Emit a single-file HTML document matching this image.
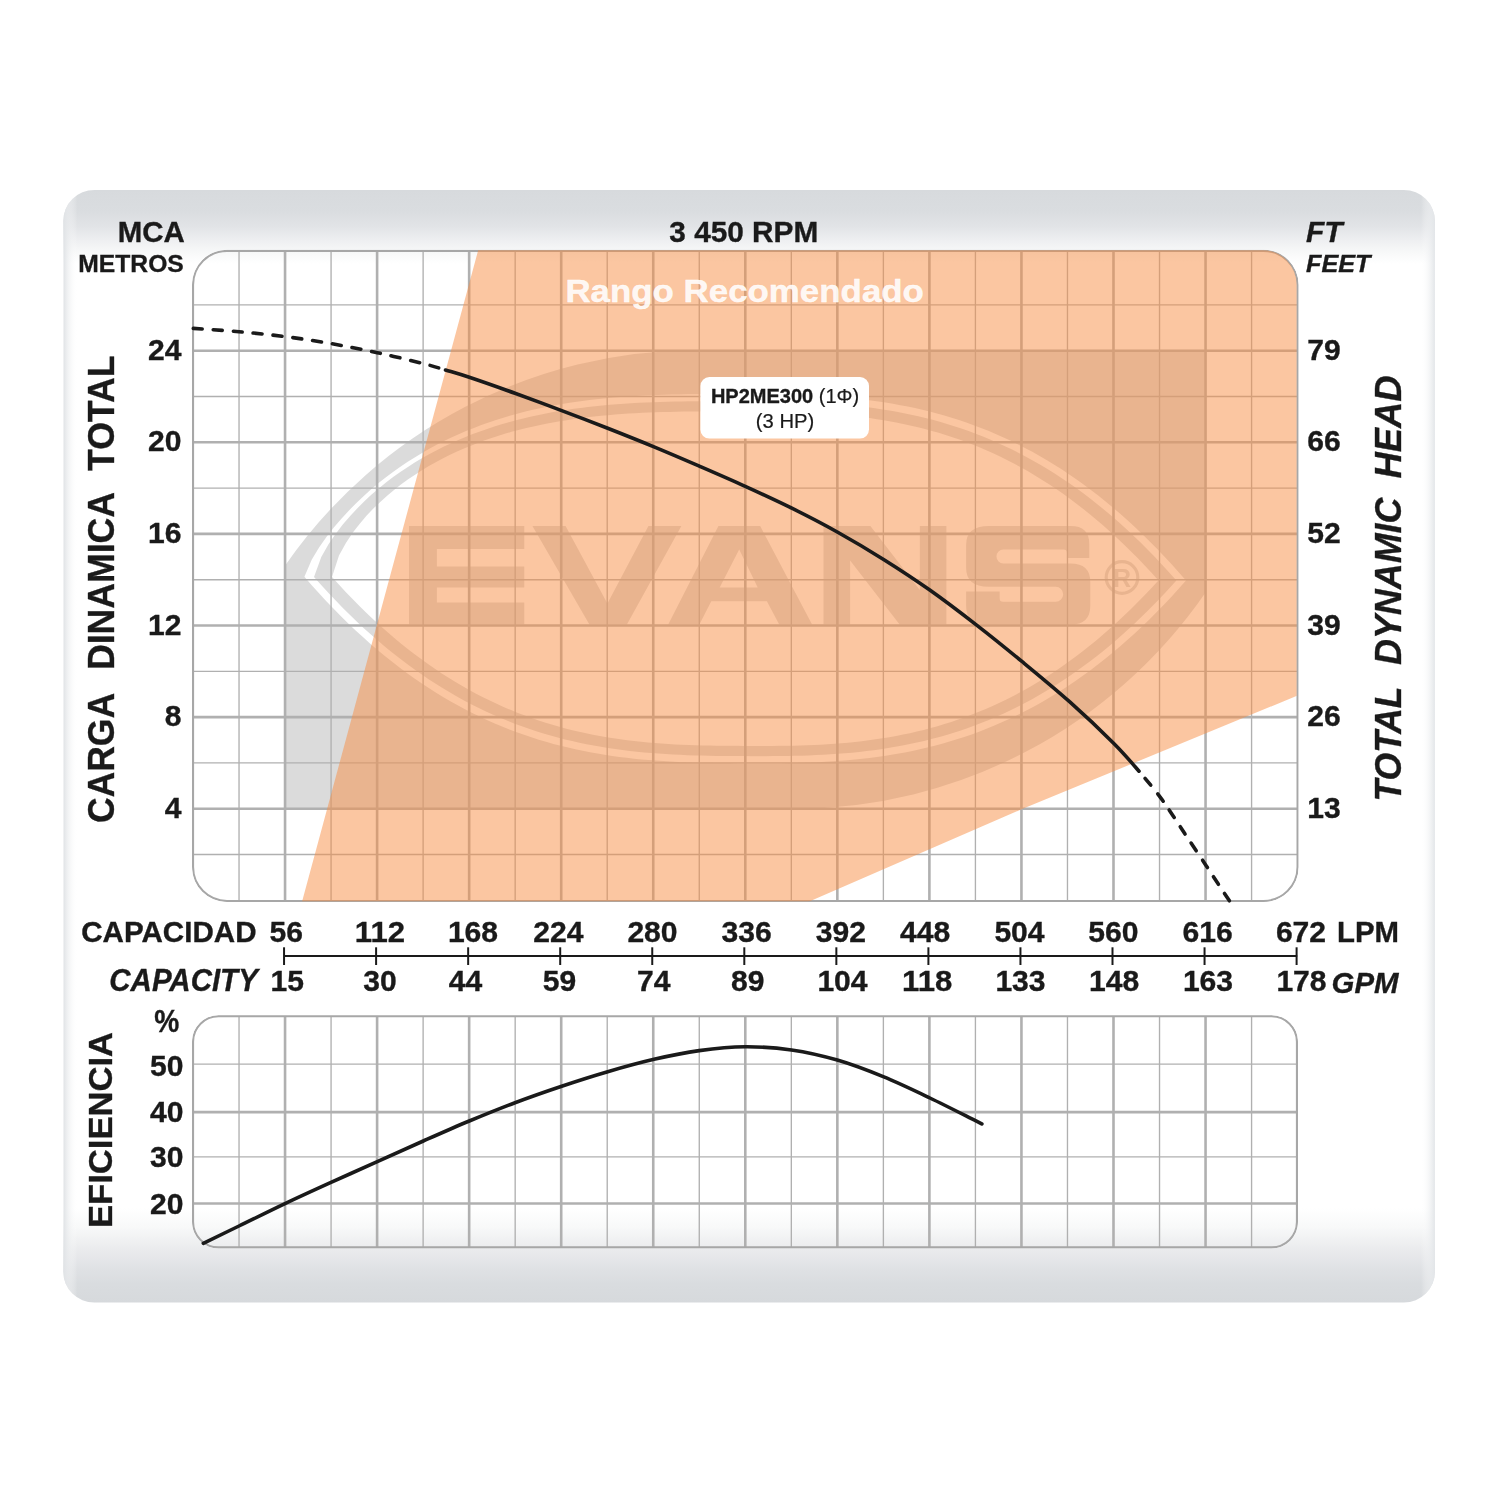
<!DOCTYPE html>
<html lang="es"><head><meta charset="utf-8"><title>Curva HP2ME300</title>
<style>html,body{margin:0;padding:0;background:#fff}svg{display:block}text{font-family:"Liberation Sans", sans-serif;fill:#1a1a1a}.b{font-weight:bold}.bi{font-weight:bold;font-style:italic}.b,.bi{stroke:#1a1a1a;stroke-width:.35px}</style>
</head><body>
<svg width="1500" height="1500" viewBox="0 0 1500 1500">
<defs>
<linearGradient id="gt" x1="0" y1="0" x2="0" y2="1"><stop offset="0" stop-color="#d7dadd"/><stop offset="0.3" stop-color="#dadde0"/><stop offset="0.5" stop-color="#e2e4e7"/><stop offset="0.68" stop-color="#eeeff1"/><stop offset="0.85" stop-color="#f8f9f9"/><stop offset="1" stop-color="#fff"/></linearGradient>
<linearGradient id="gb" x1="0" y1="0" x2="0" y2="1"><stop offset="0" stop-color="#fff"/><stop offset="0.2" stop-color="#f8f9f9"/><stop offset="0.42" stop-color="#ebecee"/><stop offset="0.65" stop-color="#dfe1e4"/><stop offset="0.8" stop-color="#d9dcdf"/><stop offset="1" stop-color="#d6d9dc"/></linearGradient>
<linearGradient id="gl" x1="0" y1="0" x2="1" y2="0"><stop offset="0" stop-color="#dfe2e5"/><stop offset="1" stop-color="#fff" stop-opacity="0"/></linearGradient>
<linearGradient id="gr" x1="0" y1="0" x2="1" y2="0"><stop offset="0" stop-color="#fff" stop-opacity="0"/><stop offset="1" stop-color="#e2e5e8"/></linearGradient>
<clipPath id="cpanel"><rect x="63.3" y="190" width="1371.6" height="1112.6" rx="31" ry="31"/></clipPath>
<clipPath id="cmain"><rect x="192" y="249.8" width="1106.6" height="652.2" rx="35" ry="35"/></clipPath>
<clipPath id="cpoly"><rect x="192.7" y="250.2" width="1103.9" height="651.1" rx="34" ry="34"/></clipPath>
<clipPath id="ceff"><rect x="192" y="1015.2" width="1106" height="233.2" rx="26.5" ry="26.5"/></clipPath>
<clipPath id="clogo"><rect x="285.5" y="350.3" width="920.1" height="458.6"/></clipPath>
<mask id="mlogo" maskUnits="userSpaceOnUse" x="0" y="0" width="1500" height="1500">
<rect x="0" y="0" width="1500" height="1500" fill="#000"/>
<g clip-path="url(#clogo)">
<path d="M285.5 565 A500 500 0 0 1 697 350.3 L1205.6 350.3 L1205.6 592.4 A500 500 0 0 1 793.4 808.9 L285.5 808.9 Z" fill="#fff"/>
<g transform="rotate(0.24 745.2 578.7)">
<path d="M304.4 578.7 L311.75 561.24 L319.09 549.05 L326.44 538.51 L333.79 529.03 L341.13 520.34 L348.48 512.29 L355.83 504.78 L363.17 497.74 L370.52 491.13 L377.87 484.9 L385.21 479.02 L392.56 473.47 L399.91 468.21 L407.25 463.24 L414.6 458.54 L421.95 454.09 L429.29 449.88 L436.64 445.89 L443.99 442.12 L451.33 438.56 L458.68 435.19 L466.03 432.02 L473.37 429.02 L480.72 426.19 L488.07 423.54 L495.41 421.04 L502.76 418.69 L510.11 416.49 L517.45 414.43 L524.8 412.51 L532.15 410.71 L539.49 409.04 L546.84 407.49 L554.19 406.06 L561.53 404.73 L568.88 403.51 L576.23 402.38 L583.57 401.36 L590.92 400.42 L598.27 399.57 L605.61 398.8 L612.96 398.11 L620.31 397.49 L627.65 396.94 L635 396.46 L642.35 396.04 L649.69 395.67 L657.04 395.36 L664.39 395.09 L671.73 394.87 L679.08 394.69 L686.43 394.54 L693.77 394.43 L701.12 394.34 L708.47 394.28 L715.81 394.24 L723.16 394.22 L730.51 394.21 L737.85 394.2 L745.2 394.2 L752.55 394.2 L759.89 394.22 L767.24 394.25 L774.59 394.31 L781.93 394.4 L789.28 394.53 L796.63 394.7 L803.97 394.92 L811.32 395.2 L818.67 395.54 L826.01 395.94 L833.36 396.41 L840.71 396.95 L848.05 397.57 L855.4 398.28 L862.75 399.07 L870.09 399.95 L877.44 400.93 L884.79 402.01 L892.13 403.19 L899.48 404.48 L906.83 405.89 L914.17 407.41 L921.52 409.05 L928.87 410.81 L936.21 412.7 L943.56 414.73 L950.91 416.89 L958.25 419.18 L965.6 421.63 L972.95 424.21 L980.29 426.95 L987.64 429.84 L994.99 432.89 L1002.33 436.11 L1009.68 439.48 L1017.03 443.02 L1024.37 446.74 L1031.72 450.63 L1039.07 454.7 L1046.41 458.95 L1053.76 463.39 L1061.11 468.01 L1068.45 472.83 L1075.8 477.84 L1083.15 483.05 L1090.49 488.46 L1097.84 494.08 L1105.19 499.91 L1112.53 505.95 L1119.88 512.2 L1127.23 518.68 L1134.57 525.37 L1141.92 532.29 L1149.27 539.44 L1156.61 546.82 L1163.96 554.43 L1171.31 562.28 L1178.65 570.37 L1186 578.7 L1178.65 587.03 L1171.31 595.12 L1163.96 602.97 L1156.61 610.58 L1149.27 617.96 L1141.92 625.11 L1134.57 632.03 L1127.23 638.72 L1119.88 645.2 L1112.53 651.45 L1105.19 657.49 L1097.84 663.32 L1090.49 668.94 L1083.15 674.35 L1075.8 679.56 L1068.45 684.57 L1061.11 689.39 L1053.76 694.01 L1046.41 698.45 L1039.07 702.7 L1031.72 706.77 L1024.37 710.66 L1017.03 714.38 L1009.68 717.92 L1002.33 721.29 L994.99 724.51 L987.64 727.56 L980.29 730.45 L972.95 733.19 L965.6 735.77 L958.25 738.22 L950.91 740.51 L943.56 742.67 L936.21 744.7 L928.87 746.59 L921.52 748.35 L914.17 749.99 L906.83 751.51 L899.48 752.92 L892.13 754.21 L884.79 755.39 L877.44 756.47 L870.09 757.45 L862.75 758.33 L855.4 759.12 L848.05 759.83 L840.71 760.45 L833.36 760.99 L826.01 761.46 L818.67 761.86 L811.32 762.2 L803.97 762.48 L796.63 762.7 L789.28 762.87 L781.93 763 L774.59 763.09 L767.24 763.15 L759.89 763.18 L752.55 763.2 L745.2 763.2 L737.85 763.2 L730.51 763.18 L723.16 763.15 L715.81 763.09 L708.47 763 L701.12 762.87 L693.77 762.7 L686.43 762.48 L679.08 762.2 L671.73 761.86 L664.39 761.46 L657.04 760.99 L649.69 760.45 L642.35 759.83 L635 759.12 L627.65 758.33 L620.31 757.45 L612.96 756.47 L605.61 755.39 L598.27 754.21 L590.92 752.92 L583.57 751.51 L576.23 749.99 L568.88 748.35 L561.53 746.59 L554.19 744.7 L546.84 742.67 L539.49 740.51 L532.15 738.22 L524.8 735.77 L517.45 733.19 L510.11 730.45 L502.76 727.56 L495.41 724.51 L488.07 721.29 L480.72 717.92 L473.37 714.38 L466.03 710.66 L458.68 706.77 L451.33 702.7 L443.99 698.45 L436.64 694.01 L429.29 689.39 L421.95 684.57 L414.6 679.56 L407.25 674.35 L399.91 668.94 L392.56 663.32 L385.21 657.49 L377.87 651.45 L370.52 645.2 L363.17 638.72 L355.83 632.03 L348.48 625.11 L341.13 617.96 L333.79 610.58 L326.44 602.97 L319.09 595.12 L311.75 587.03 Z" fill="#000"/>
<path d="M314 578.7 L321.19 558.67 L328.37 546.01 L335.56 535.39 L342.75 526.01 L349.93 517.54 L357.12 509.77 L364.31 502.59 L371.49 495.91 L378.68 489.67 L385.87 483.82 L393.05 478.34 L400.24 473.17 L407.43 468.31 L414.61 463.72 L421.8 459.4 L428.99 455.31 L436.17 451.46 L443.36 447.82 L450.55 444.39 L457.73 441.15 L464.92 438.09 L472.11 435.22 L479.29 432.51 L486.48 429.96 L493.67 427.56 L500.85 425.31 L508.04 423.2 L515.23 421.22 L522.41 419.37 L529.6 417.65 L536.79 416.04 L543.97 414.54 L551.16 413.16 L558.35 411.87 L565.53 410.69 L572.72 409.59 L579.91 408.59 L587.09 407.68 L594.28 406.84 L601.47 406.08 L608.65 405.4 L615.84 404.78 L623.03 404.23 L630.21 403.74 L637.4 403.31 L644.59 402.93 L651.77 402.61 L658.96 402.33 L666.15 402.09 L673.33 401.89 L680.52 401.73 L687.71 401.6 L694.89 401.5 L702.08 401.43 L709.27 401.37 L716.45 401.34 L723.64 401.32 L730.83 401.3 L738.01 401.3 L745.2 401.3 L752.39 401.3 L759.57 401.32 L766.76 401.35 L773.95 401.4 L781.13 401.49 L788.32 401.62 L795.51 401.78 L802.69 402 L809.88 402.26 L817.07 402.59 L824.25 402.97 L831.44 403.42 L838.63 403.94 L845.81 404.54 L853 405.22 L860.19 405.98 L867.37 406.83 L874.56 407.77 L881.75 408.81 L888.93 409.95 L896.12 411.19 L903.31 412.54 L910.49 414 L917.68 415.58 L924.87 417.27 L932.05 419.09 L939.24 421.04 L946.43 423.11 L953.61 425.32 L960.8 427.67 L967.99 430.16 L975.17 432.79 L982.36 435.57 L989.55 438.51 L996.73 441.59 L1003.92 444.84 L1011.11 448.25 L1018.29 451.82 L1025.48 455.56 L1032.67 459.47 L1039.85 463.56 L1047.04 467.82 L1054.23 472.27 L1061.41 476.9 L1068.6 481.72 L1075.79 486.73 L1082.97 491.94 L1090.16 497.34 L1097.35 502.94 L1104.53 508.75 L1111.72 514.76 L1118.91 520.99 L1126.09 527.42 L1133.28 534.08 L1140.47 540.95 L1147.65 548.04 L1154.84 555.36 L1162.03 562.91 L1169.21 570.69 L1176.4 578.7 L1169.21 586.71 L1162.03 594.49 L1154.84 602.04 L1147.65 609.36 L1140.47 616.45 L1133.28 623.32 L1126.09 629.98 L1118.91 636.41 L1111.72 642.64 L1104.53 648.65 L1097.35 654.46 L1090.16 660.06 L1082.97 665.46 L1075.79 670.67 L1068.6 675.68 L1061.41 680.5 L1054.23 685.13 L1047.04 689.58 L1039.85 693.84 L1032.67 697.93 L1025.48 701.84 L1018.29 705.58 L1011.11 709.15 L1003.92 712.56 L996.73 715.81 L989.55 718.89 L982.36 721.83 L975.17 724.61 L967.99 727.24 L960.8 729.73 L953.61 732.08 L946.43 734.29 L939.24 736.36 L932.05 738.31 L924.87 740.13 L917.68 741.82 L910.49 743.4 L903.31 744.86 L896.12 746.21 L888.93 747.45 L881.75 748.59 L874.56 749.63 L867.37 750.57 L860.19 751.42 L853 752.18 L845.81 752.86 L838.63 753.46 L831.44 753.98 L824.25 754.43 L817.07 754.81 L809.88 755.14 L802.69 755.4 L795.51 755.62 L788.32 755.78 L781.13 755.91 L773.95 756 L766.76 756.05 L759.57 756.08 L752.39 756.1 L745.2 756.1 L738.01 756.1 L730.83 756.08 L723.64 756.05 L716.45 756 L709.27 755.91 L702.08 755.78 L694.89 755.62 L687.71 755.4 L680.52 755.14 L673.33 754.81 L666.15 754.43 L658.96 753.98 L651.77 753.46 L644.59 752.86 L637.4 752.18 L630.21 751.42 L623.03 750.57 L615.84 749.63 L608.65 748.59 L601.47 747.45 L594.28 746.21 L587.09 744.86 L579.91 743.4 L572.72 741.82 L565.53 740.13 L558.35 738.31 L551.16 736.36 L543.97 734.29 L536.79 732.08 L529.6 729.73 L522.41 727.24 L515.23 724.61 L508.04 721.83 L500.85 718.89 L493.67 715.81 L486.48 712.56 L479.29 709.15 L472.11 705.58 L464.92 701.84 L457.73 697.93 L450.55 693.84 L443.36 689.58 L436.17 685.13 L428.99 680.5 L421.8 675.68 L414.61 670.67 L407.43 665.46 L400.24 660.06 L393.05 654.46 L385.87 648.65 L378.68 642.64 L371.49 636.41 L364.31 629.98 L357.12 623.32 L349.93 616.45 L342.75 609.36 L335.56 602.04 L328.37 594.49 L321.19 586.71 Z" fill="#fff"/>
<path d="M332 578.7 L338.89 557.14 L345.77 544.55 L352.66 534.23 L359.55 525.24 L366.43 517.2 L373.32 509.89 L380.21 503.18 L387.09 496.97 L393.98 491.2 L400.87 485.81 L407.75 480.77 L414.64 476.05 L421.53 471.61 L428.41 467.44 L435.3 463.51 L442.19 459.81 L449.07 456.33 L455.96 453.04 L462.85 449.95 L469.73 447.04 L476.62 444.29 L483.51 441.71 L490.39 439.28 L497.28 437 L504.17 434.86 L511.05 432.84 L517.94 430.96 L524.83 429.2 L531.71 427.55 L538.6 426.01 L545.49 424.58 L552.37 423.25 L559.26 422.02 L566.15 420.88 L573.03 419.82 L579.92 418.85 L586.81 417.96 L593.69 417.15 L600.58 416.41 L607.47 415.74 L614.35 415.13 L621.24 414.58 L628.13 414.1 L635.01 413.66 L641.9 413.28 L648.79 412.95 L655.67 412.66 L662.56 412.41 L669.45 412.2 L676.33 412.03 L683.22 411.88 L690.11 411.77 L696.99 411.68 L703.88 411.61 L710.77 411.57 L717.65 411.53 L724.54 411.51 L731.43 411.5 L738.31 411.5 L745.2 411.5 L752.09 411.5 L758.97 411.51 L765.86 411.54 L772.75 411.6 L779.63 411.68 L786.52 411.8 L793.41 411.95 L800.29 412.16 L807.18 412.41 L814.07 412.71 L820.95 413.07 L827.84 413.5 L834.73 413.99 L841.61 414.56 L848.5 415.19 L855.39 415.91 L862.27 416.71 L869.16 417.6 L876.05 418.58 L882.93 419.65 L889.82 420.82 L896.71 422.09 L903.59 423.47 L910.48 424.96 L917.37 426.55 L924.25 428.27 L931.14 430.1 L938.03 432.06 L944.91 434.14 L951.8 436.35 L958.69 438.7 L965.57 441.18 L972.46 443.8 L979.35 446.57 L986.23 449.48 L993.12 452.53 L1000.01 455.75 L1006.89 459.11 L1013.78 462.64 L1020.67 466.33 L1027.55 470.18 L1034.44 474.2 L1041.33 478.39 L1048.21 482.75 L1055.1 487.3 L1061.99 492.02 L1068.87 496.93 L1075.76 502.02 L1082.65 507.3 L1089.53 512.77 L1096.42 518.44 L1103.31 524.31 L1110.19 530.37 L1117.08 536.64 L1123.97 543.12 L1130.85 549.8 L1137.74 556.7 L1144.63 563.82 L1151.51 571.15 L1158.4 578.7 L1151.51 586.25 L1144.63 593.58 L1137.74 600.7 L1130.85 607.6 L1123.97 614.28 L1117.08 620.76 L1110.19 627.03 L1103.31 633.09 L1096.42 638.96 L1089.53 644.63 L1082.65 650.1 L1075.76 655.38 L1068.87 660.47 L1061.99 665.38 L1055.1 670.1 L1048.21 674.65 L1041.33 679.01 L1034.44 683.2 L1027.55 687.22 L1020.67 691.07 L1013.78 694.76 L1006.89 698.29 L1000.01 701.65 L993.12 704.87 L986.23 707.92 L979.35 710.83 L972.46 713.6 L965.57 716.22 L958.69 718.7 L951.8 721.05 L944.91 723.26 L938.03 725.34 L931.14 727.3 L924.25 729.13 L917.37 730.85 L910.48 732.44 L903.59 733.93 L896.71 735.31 L889.82 736.58 L882.93 737.75 L876.05 738.82 L869.16 739.8 L862.27 740.69 L855.39 741.49 L848.5 742.21 L841.61 742.84 L834.73 743.41 L827.84 743.9 L820.95 744.33 L814.07 744.69 L807.18 744.99 L800.29 745.24 L793.41 745.45 L786.52 745.6 L779.63 745.72 L772.75 745.8 L765.86 745.86 L758.97 745.89 L752.09 745.9 L745.2 745.9 L738.31 745.9 L731.43 745.89 L724.54 745.86 L717.65 745.8 L710.77 745.72 L703.88 745.6 L696.99 745.45 L690.11 745.24 L683.22 744.99 L676.33 744.69 L669.45 744.33 L662.56 743.9 L655.67 743.41 L648.79 742.84 L641.9 742.21 L635.01 741.49 L628.13 740.69 L621.24 739.8 L614.35 738.82 L607.47 737.75 L600.58 736.58 L593.69 735.31 L586.81 733.93 L579.92 732.44 L573.03 730.85 L566.15 729.13 L559.26 727.3 L552.37 725.34 L545.49 723.26 L538.6 721.05 L531.71 718.7 L524.83 716.22 L517.94 713.6 L511.05 710.83 L504.17 707.92 L497.28 704.87 L490.39 701.65 L483.51 698.29 L476.62 694.76 L469.73 691.07 L462.85 687.22 L455.96 683.2 L449.07 679.01 L442.19 674.65 L435.3 670.1 L428.41 665.38 L421.53 660.47 L414.64 655.38 L407.75 650.1 L400.87 644.63 L393.98 638.96 L387.09 633.09 L380.21 627.03 L373.32 620.76 L366.43 614.28 L359.55 607.6 L352.66 600.7 L345.77 593.58 L338.89 586.25 Z" fill="#000"/>
</g>
<path d="M409 526.1 H524.3 V548.9 H436.9 V566.4 H524.3 V587.4 H436.9 V602.6 H524.3 V624.6 H409 Z" fill="#fff" fill-rule="evenodd"/>
<path d="M532.4 526.1 L565.6 526.1 L607.4 603.6 L648.4 526.1 L681.4 526.1 L626.9 624.6 L589.4 624.6 Z" fill="#fff" fill-rule="evenodd"/>
<path d="M668.2 624.6 L718.4 526.1 L760.2 526.1 L812.1 624.6 L779.2 624.6 L766.9 601.3 L711.3 601.3 L699.4 624.6 Z M739.2 549.4 L757.7 587.4 L719.7 587.4 Z" fill="#fff" fill-rule="evenodd"/>
<path d="M823.5 526.1 L870.4 526.1 L919.8 590 L919.8 526.1 L946.4 526.1 L946.4 624.6 L899.6 624.6 L850.1 560.5 L850.1 624.6 L823.5 624.6 Z" fill="#fff" fill-rule="evenodd"/>
<path d="M988.5 526.1 H1070.7 Q1089.3 526.1 1089.3 544 V557.9 H1066.9 V552.5 Q1066.9 549.5 1063.5 549.5 H1003.5 A7 7 0 0 0 1003.5 563.5 H1070.7 Q1090.3 563.5 1090.3 582 V606 Q1090.3 624.6 1070.7 624.6 H986.7 Q966.1 624.6 966.1 606 V591.5 H999.7 V598.5 Q999.7 601.7 1003 601.7 H1055.7 A7.45 7.45 0 0 0 1055.7 586.8 H988.5 Q966.1 586.8 966.1 568 V545 Q966.1 526.1 988.5 526.1 Z" fill="#fff" fill-rule="evenodd"/>
<circle cx="1122" cy="577.5" r="15.8" fill="none" stroke="#fff" stroke-width="3.2"/>
<text x="1122" y="586.5" text-anchor="middle" font-size="25" font-weight="bold" style="fill:#fff;font-family:'Liberation Sans', sans-serif">R</text>
</g></mask>
</defs>
<g clip-path="url(#cpanel)">
<rect x="60" y="188" width="1380" height="1118" fill="#fff"/>
<rect x="60" y="190" width="1380" height="74" fill="url(#gt)"/>
<rect x="60" y="1208" width="1380" height="95" fill="url(#gb)"/>
<rect x="63.3" y="190" width="14" height="1113" fill="url(#gl)"/>
<rect x="1421" y="190" width="14" height="1113" fill="url(#gr)"/>
</g>
<g clip-path="url(#cmain)">
<rect x="280" y="345" width="930" height="470" fill="#000" fill-opacity="0.142" mask="url(#mlogo)"/>
<g stroke="#b0b0b0"><line x1="239.03" y1="250.8" x2="239.03" y2="901" stroke-width="1.35"/><line x1="285.05" y1="250.8" x2="285.05" y2="901" stroke-width="2.6"/><line x1="331.07" y1="250.8" x2="331.07" y2="901" stroke-width="1.35"/><line x1="377.1" y1="250.8" x2="377.1" y2="901" stroke-width="2.6"/><line x1="423.12" y1="250.8" x2="423.12" y2="901" stroke-width="1.35"/><line x1="469.15" y1="250.8" x2="469.15" y2="901" stroke-width="2.6"/><line x1="515.17" y1="250.8" x2="515.17" y2="901" stroke-width="1.35"/><line x1="561.2" y1="250.8" x2="561.2" y2="901" stroke-width="2.6"/><line x1="607.22" y1="250.8" x2="607.22" y2="901" stroke-width="1.35"/><line x1="653.25" y1="250.8" x2="653.25" y2="901" stroke-width="2.6"/><line x1="699.27" y1="250.8" x2="699.27" y2="901" stroke-width="1.35"/><line x1="745.3" y1="250.8" x2="745.3" y2="901" stroke-width="2.6"/><line x1="791.32" y1="250.8" x2="791.32" y2="901" stroke-width="1.35"/><line x1="837.35" y1="250.8" x2="837.35" y2="901" stroke-width="2.6"/><line x1="883.38" y1="250.8" x2="883.38" y2="901" stroke-width="1.35"/><line x1="929.4" y1="250.8" x2="929.4" y2="901" stroke-width="2.6"/><line x1="975.42" y1="250.8" x2="975.42" y2="901" stroke-width="1.35"/><line x1="1021.45" y1="250.8" x2="1021.45" y2="901" stroke-width="2.6"/><line x1="1067.47" y1="250.8" x2="1067.47" y2="901" stroke-width="1.35"/><line x1="1113.5" y1="250.8" x2="1113.5" y2="901" stroke-width="2.6"/><line x1="1159.53" y1="250.8" x2="1159.53" y2="901" stroke-width="1.35"/><line x1="1205.55" y1="250.8" x2="1205.55" y2="901" stroke-width="2.6"/><line x1="1251.58" y1="250.8" x2="1251.58" y2="901" stroke-width="1.35"/><line x1="193" y1="304.9" x2="1297.6" y2="304.9" stroke-width="1.35"/><line x1="193" y1="350.7" x2="1297.6" y2="350.7" stroke-width="2.6"/><line x1="193" y1="396.5" x2="1297.6" y2="396.5" stroke-width="1.35"/><line x1="193" y1="442.3" x2="1297.6" y2="442.3" stroke-width="2.6"/><line x1="193" y1="488.1" x2="1297.6" y2="488.1" stroke-width="1.35"/><line x1="193" y1="533.9" x2="1297.6" y2="533.9" stroke-width="2.6"/><line x1="193" y1="579.7" x2="1297.6" y2="579.7" stroke-width="1.35"/><line x1="193" y1="625.5" x2="1297.6" y2="625.5" stroke-width="2.6"/><line x1="193" y1="671.3" x2="1297.6" y2="671.3" stroke-width="1.35"/><line x1="193" y1="717.1" x2="1297.6" y2="717.1" stroke-width="2.6"/><line x1="193" y1="762.9" x2="1297.6" y2="762.9" stroke-width="1.35"/><line x1="193" y1="808.7" x2="1297.6" y2="808.7" stroke-width="2.6"/><line x1="193" y1="854.5" x2="1297.6" y2="854.5" stroke-width="1.35"/></g>
<rect x="193" y="250.8" width="1104.6" height="650.2" rx="34" ry="34" fill="none" stroke="#a7a7a7" stroke-width="2.2"/>
<polygon clip-path="url(#cpoly)" points="479.6,245 1310,245 1310,690.4 1021.5,809.3 796.6,907 300.6,907" fill="#f78d43" fill-opacity="0.5"/>
</g>
<text class="b" x="565.4" y="301.6" font-size="31.2" textLength="358.5" lengthAdjust="spacingAndGlyphs" style="fill:#fff;fill-opacity:0.9;stroke:#fff;stroke-opacity:0.9;stroke-width:0.4px">Rango Recomendado</text>
<rect x="700.4" y="377" width="168.6" height="61.6" rx="9" ry="9" fill="#fff"/>
<g opacity="0.999">
<text transform="translate(710.9 403) scale(1 1)" font-size="20" style="stroke:#1a1a1a;stroke-width:.2px"><tspan class="b">HP2ME300</tspan> (1&#934;)</text>
<text transform="translate(785 427.5) scale(1.01 1)" font-size="20" style="stroke:#1a1a1a;stroke-width:.2px" text-anchor="middle">(3 HP)</text>
</g>
<g>
<path d="M193.3 328.4 C200.92 328.95 223.72 330.33 239 331.7 C254.28 333.07 269.67 334.62 285 336.6 C300.33 338.58 315.62 340.92 331 343.6 C346.38 346.28 361.92 349.37 377.3 352.7 C392.68 356.03 411.93 360.72 423.3 363.6 C434.67 366.48 437.83 367.72 445.5 370" fill="none" stroke="#1a1a1a" stroke-width="3.6" stroke-linecap="round" stroke-linejoin="round" stroke-dasharray="9 11"/>
<path d="M445.5 370 C453.17 372.28 457.72 373.42 469.3 377.3 C480.88 381.18 499.6 387.75 515 393.3 C530.4 398.85 546.25 404.77 561.7 410.6 C577.15 416.43 592.32 422.25 607.7 428.3 C623.08 434.35 638.72 440.58 654 446.9 C669.28 453.22 684.1 459.58 699.4 466.2 C714.7 472.82 730.4 479.6 745.8 486.6 C761.2 493.6 776.48 500.6 791.8 508.2 C807.12 515.8 822.4 523.67 837.7 532.2 C853 540.73 868.25 549.77 883.6 559.4 C898.95 569.03 914.4 579.13 929.8 590 C945.2 600.87 960.6 612.65 976 624.6 C991.4 636.55 1006.57 648.82 1022.2 661.7 C1037.83 674.58 1054.57 688.32 1069.8 701.9 C1085.03 715.48 1102.07 731.65 1113.6 743.2 C1125.13 754.75 1131.3 762.3 1139 771.2" fill="none" stroke="#1a1a1a" stroke-width="3.6" stroke-linecap="round" stroke-linejoin="round"/>
<path d="M1139 771.2 C1146.7 780.1 1154.05 789.07 1159.8 796.6 C1165.55 804.13 1168.83 809.47 1173.5 816.4 C1178.17 823.33 1182.38 830.03 1187.8 838.2 C1193.22 846.37 1200.63 857.33 1206 865.4 C1211.37 873.47 1215.75 880.17 1220 886.6 C1224.25 893.03 1229.58 901.1 1231.5 904" fill="none" stroke="#1a1a1a" stroke-width="3.6" stroke-linecap="round" stroke-linejoin="round" stroke-dasharray="9 11" stroke-dashoffset="-9.2"/>
</g>
<g clip-path="url(#ceff)">
<g stroke="#b0b0b0"><line x1="239.03" y1="1016.2" x2="239.03" y2="1247.4" stroke-width="1.35"/><line x1="285.05" y1="1016.2" x2="285.05" y2="1247.4" stroke-width="2.6"/><line x1="331.07" y1="1016.2" x2="331.07" y2="1247.4" stroke-width="1.35"/><line x1="377.1" y1="1016.2" x2="377.1" y2="1247.4" stroke-width="2.6"/><line x1="423.12" y1="1016.2" x2="423.12" y2="1247.4" stroke-width="1.35"/><line x1="469.15" y1="1016.2" x2="469.15" y2="1247.4" stroke-width="2.6"/><line x1="515.17" y1="1016.2" x2="515.17" y2="1247.4" stroke-width="1.35"/><line x1="561.2" y1="1016.2" x2="561.2" y2="1247.4" stroke-width="2.6"/><line x1="607.22" y1="1016.2" x2="607.22" y2="1247.4" stroke-width="1.35"/><line x1="653.25" y1="1016.2" x2="653.25" y2="1247.4" stroke-width="2.6"/><line x1="699.27" y1="1016.2" x2="699.27" y2="1247.4" stroke-width="1.35"/><line x1="745.3" y1="1016.2" x2="745.3" y2="1247.4" stroke-width="2.6"/><line x1="791.32" y1="1016.2" x2="791.32" y2="1247.4" stroke-width="1.35"/><line x1="837.35" y1="1016.2" x2="837.35" y2="1247.4" stroke-width="2.6"/><line x1="883.38" y1="1016.2" x2="883.38" y2="1247.4" stroke-width="1.35"/><line x1="929.4" y1="1016.2" x2="929.4" y2="1247.4" stroke-width="2.6"/><line x1="975.42" y1="1016.2" x2="975.42" y2="1247.4" stroke-width="1.35"/><line x1="1021.45" y1="1016.2" x2="1021.45" y2="1247.4" stroke-width="2.6"/><line x1="1067.47" y1="1016.2" x2="1067.47" y2="1247.4" stroke-width="1.35"/><line x1="1113.5" y1="1016.2" x2="1113.5" y2="1247.4" stroke-width="2.6"/><line x1="1159.53" y1="1016.2" x2="1159.53" y2="1247.4" stroke-width="1.35"/><line x1="1205.55" y1="1016.2" x2="1205.55" y2="1247.4" stroke-width="2.6"/><line x1="1251.58" y1="1016.2" x2="1251.58" y2="1247.4" stroke-width="1.35"/><line x1="193" y1="1064.1" x2="1297.6" y2="1064.1" stroke-width="1.35"/><line x1="193" y1="1112.1" x2="1297.6" y2="1112.1" stroke-width="2.6"/><line x1="193" y1="1156.8" x2="1297.6" y2="1156.8" stroke-width="1.35"/><line x1="193" y1="1203.5" x2="1297.6" y2="1203.5" stroke-width="2.6"/></g>
<rect x="193" y="1016.2" width="1104" height="231.2" rx="25.5" ry="25.5" fill="none" stroke="#a7a7a7" stroke-width="2.2"/>
</g>
<path d="M203.3 1243.3 C209.25 1240.42 225.38 1232.62 239 1226 C252.62 1219.38 269.67 1210.87 285 1203.6 C300.33 1196.33 315.62 1189.38 331 1182.4 C346.38 1175.42 361.92 1168.6 377.3 1161.7 C392.68 1154.8 407.97 1147.78 423.3 1141 C438.63 1134.22 454.02 1127.38 469.3 1121 C484.58 1114.62 499.6 1108.5 515 1102.7 C530.4 1096.9 546.25 1091.37 561.7 1086.2 C577.15 1081.03 592.32 1076.18 607.7 1071.7 C623.08 1067.22 638.75 1062.82 654 1059.3 C669.25 1055.78 683.98 1052.68 699.2 1050.6 C714.42 1048.52 729.92 1046.9 745.3 1046.8 C760.68 1046.7 776.17 1047.78 791.5 1050 C806.83 1052.22 822.02 1055.65 837.3 1060.1 C852.58 1064.55 867.77 1070.38 883.2 1076.7 C898.63 1083.02 914.52 1090.67 929.9 1098 C945.28 1105.33 966.83 1116.38 975.5 1120.7 C984.17 1125.02 980.83 1123.37 981.9 1123.9" fill="none" stroke="#1a1a1a" stroke-width="3.6" stroke-linecap="round" stroke-linejoin="round"/>
<g stroke="#1a1a1a" stroke-width="2">
<line x1="283.85" y1="956" x2="1297.2" y2="956"/>
<line x1="284.05" y1="947.3" x2="284.05" y2="965"/>
<line x1="376.1" y1="947.3" x2="376.1" y2="965"/>
<line x1="468.15" y1="947.3" x2="468.15" y2="965"/>
<line x1="560.2" y1="947.3" x2="560.2" y2="965"/>
<line x1="652.25" y1="947.3" x2="652.25" y2="965"/>
<line x1="744.3" y1="947.3" x2="744.3" y2="965"/>
<line x1="836.35" y1="947.3" x2="836.35" y2="965"/>
<line x1="928.4" y1="947.3" x2="928.4" y2="965"/>
<line x1="1020.45" y1="947.3" x2="1020.45" y2="965"/>
<line x1="1112.5" y1="947.3" x2="1112.5" y2="965"/>
<line x1="1204.55" y1="947.3" x2="1204.55" y2="965"/>
<line x1="1296.6" y1="947.3" x2="1296.6" y2="965"/>
</g>
<g opacity="0.999">
<text class="b" x="286.3" y="941.7" font-size="30.38" text-anchor="middle" textLength="33.48" lengthAdjust="spacingAndGlyphs">56</text>
<text class="b" x="380" y="941.7" font-size="30.38" text-anchor="middle" textLength="50.22" lengthAdjust="spacingAndGlyphs">112</text>
<text class="b" x="473" y="941.7" font-size="30.38" text-anchor="middle" textLength="50.22" lengthAdjust="spacingAndGlyphs">168</text>
<text class="b" x="558.3" y="941.7" font-size="30.38" text-anchor="middle" textLength="50.22" lengthAdjust="spacingAndGlyphs">224</text>
<text class="b" x="652.5" y="941.7" font-size="30.38" text-anchor="middle" textLength="50.22" lengthAdjust="spacingAndGlyphs">280</text>
<text class="b" x="746.7" y="941.7" font-size="30.38" text-anchor="middle" textLength="50.22" lengthAdjust="spacingAndGlyphs">336</text>
<text class="b" x="840.8" y="941.7" font-size="30.38" text-anchor="middle" textLength="50.22" lengthAdjust="spacingAndGlyphs">392</text>
<text class="b" x="925.2" y="941.7" font-size="30.38" text-anchor="middle" textLength="50.22" lengthAdjust="spacingAndGlyphs">448</text>
<text class="b" x="1019.5" y="941.7" font-size="30.38" text-anchor="middle" textLength="50.22" lengthAdjust="spacingAndGlyphs">504</text>
<text class="b" x="1113.3" y="941.7" font-size="30.38" text-anchor="middle" textLength="50.22" lengthAdjust="spacingAndGlyphs">560</text>
<text class="b" x="1207.6" y="941.7" font-size="30.38" text-anchor="middle" textLength="50.22" lengthAdjust="spacingAndGlyphs">616</text>
<text class="b" x="1301" y="941.7" font-size="30.38" text-anchor="middle" textLength="50.22" lengthAdjust="spacingAndGlyphs">672</text>
<text class="b" x="287.2" y="990.8" font-size="30.38" text-anchor="middle" textLength="33.48" lengthAdjust="spacingAndGlyphs">15</text>
<text class="b" x="380" y="990.8" font-size="30.38" text-anchor="middle" textLength="33.48" lengthAdjust="spacingAndGlyphs">30</text>
<text class="b" x="465.5" y="990.8" font-size="30.38" text-anchor="middle" textLength="33.48" lengthAdjust="spacingAndGlyphs">44</text>
<text class="b" x="559.5" y="990.8" font-size="30.38" text-anchor="middle" textLength="33.48" lengthAdjust="spacingAndGlyphs">59</text>
<text class="b" x="653.8" y="990.8" font-size="30.38" text-anchor="middle" textLength="33.48" lengthAdjust="spacingAndGlyphs">74</text>
<text class="b" x="747.8" y="990.8" font-size="30.38" text-anchor="middle" textLength="33.48" lengthAdjust="spacingAndGlyphs">89</text>
<text class="b" x="842.5" y="990.8" font-size="30.38" text-anchor="middle" textLength="50.22" lengthAdjust="spacingAndGlyphs">104</text>
<text class="b" x="927.2" y="990.8" font-size="30.38" text-anchor="middle" textLength="50.22" lengthAdjust="spacingAndGlyphs">118</text>
<text class="b" x="1020.5" y="990.8" font-size="30.38" text-anchor="middle" textLength="50.22" lengthAdjust="spacingAndGlyphs">133</text>
<text class="b" x="1114.2" y="990.8" font-size="30.38" text-anchor="middle" textLength="50.22" lengthAdjust="spacingAndGlyphs">148</text>
<text class="b" x="1208" y="990.8" font-size="30.38" text-anchor="middle" textLength="50.22" lengthAdjust="spacingAndGlyphs">163</text>
<text class="b" x="1301.5" y="990.8" font-size="30.38" text-anchor="middle" textLength="50.22" lengthAdjust="spacingAndGlyphs">178</text>
<text class="b" x="81.2" y="941.8" font-size="30.24" textLength="175.4" lengthAdjust="spacingAndGlyphs">CAPACIDAD</text>
<text class="bi" x="109.3" y="990.8" font-size="30.53" textLength="148.5" lengthAdjust="spacingAndGlyphs">CAPACITY</text>
<text class="b" x="1337" y="941.8" font-size="30.24" textLength="62" lengthAdjust="spacingAndGlyphs">LPM</text>
<text class="bi" x="1331.5" y="993.4" font-size="30.24" textLength="67" lengthAdjust="spacingAndGlyphs">GPM</text>
<text class="b" x="669.3" y="242.1" font-size="29.4" textLength="149" lengthAdjust="spacingAndGlyphs">3 450 RPM</text>
<text class="b" x="117.7" y="241.8" font-size="29.5" textLength="67" lengthAdjust="spacingAndGlyphs">MCA</text>
<text class="b" x="78.3" y="271.8" font-size="24.3" textLength="105.5" lengthAdjust="spacingAndGlyphs">METROS</text>
<text class="bi" x="1306" y="242.1" font-size="28.6" textLength="36.5" lengthAdjust="spacingAndGlyphs">FT</text>
<text class="bi" x="1306" y="271.7" font-size="24" textLength="64.5" lengthAdjust="spacingAndGlyphs">FEET</text>
<text class="b" x="181.6" y="359.8" font-size="30.38" text-anchor="end" textLength="33.48" lengthAdjust="spacingAndGlyphs">24</text>
<text class="b" x="181.6" y="451.4" font-size="30.38" text-anchor="end" textLength="33.48" lengthAdjust="spacingAndGlyphs">20</text>
<text class="b" x="181.6" y="543" font-size="30.38" text-anchor="end" textLength="33.48" lengthAdjust="spacingAndGlyphs">16</text>
<text class="b" x="181.6" y="634.6" font-size="30.38" text-anchor="end" textLength="33.48" lengthAdjust="spacingAndGlyphs">12</text>
<text class="b" x="181.6" y="726.2" font-size="30.38" text-anchor="end" textLength="16.74" lengthAdjust="spacingAndGlyphs">8</text>
<text class="b" x="181.6" y="817.8" font-size="30.38" text-anchor="end" textLength="16.74" lengthAdjust="spacingAndGlyphs">4</text>
<text class="b" x="1307.2" y="359.8" font-size="30.38" textLength="33.48" lengthAdjust="spacingAndGlyphs">79</text>
<text class="b" x="1307.2" y="451.4" font-size="30.38" textLength="33.48" lengthAdjust="spacingAndGlyphs">66</text>
<text class="b" x="1307.2" y="543" font-size="30.38" textLength="33.48" lengthAdjust="spacingAndGlyphs">52</text>
<text class="b" x="1307.2" y="634.6" font-size="30.38" textLength="33.48" lengthAdjust="spacingAndGlyphs">39</text>
<text class="b" x="1307.2" y="726.2" font-size="30.38" textLength="33.48" lengthAdjust="spacingAndGlyphs">26</text>
<text class="b" x="1307.2" y="817.8" font-size="30.38" textLength="33.48" lengthAdjust="spacingAndGlyphs">13</text>
<text class="b" x="183.4" y="1075.7" font-size="30.38" text-anchor="end" textLength="33.48" lengthAdjust="spacingAndGlyphs">50</text>
<text class="b" x="183.4" y="1122.2" font-size="30.38" text-anchor="end" textLength="33.48" lengthAdjust="spacingAndGlyphs">40</text>
<text class="b" x="183.4" y="1167.4" font-size="30.38" text-anchor="end" textLength="33.48" lengthAdjust="spacingAndGlyphs">30</text>
<text class="b" x="183.4" y="1213.9" font-size="30.38" text-anchor="end" textLength="33.48" lengthAdjust="spacingAndGlyphs">20</text>
<text class="b" x="154.3" y="1031.8" font-size="30.5" textLength="25" lengthAdjust="spacingAndGlyphs">%</text>
<text class="b" transform="translate(113.7 823) rotate(-90)" font-size="36.6" textLength="130" lengthAdjust="spacingAndGlyphs">CARGA</text>
<text class="b" transform="translate(113.7 670) rotate(-90)" font-size="36.6" textLength="178" lengthAdjust="spacingAndGlyphs">DINAMICA</text>
<text class="b" transform="translate(113.7 471) rotate(-90)" font-size="36.6" textLength="115.5" lengthAdjust="spacingAndGlyphs">TOTAL</text>
<text class="bi" transform="translate(1401 801.5) rotate(-90)" font-size="37.3" textLength="115" lengthAdjust="spacingAndGlyphs">TOTAL</text>
<text class="bi" transform="translate(1401 665) rotate(-90)" font-size="37.3" textLength="167.5" lengthAdjust="spacingAndGlyphs">DYNAMIC</text>
<text class="bi" transform="translate(1401 478.5) rotate(-90)" font-size="37.3" textLength="103" lengthAdjust="spacingAndGlyphs">HEAD</text>
<text class="b" transform="translate(112.4 1228) rotate(-90)" font-size="34" textLength="196" lengthAdjust="spacingAndGlyphs">EFICIENCIA</text>
</g>
</svg></body></html>
